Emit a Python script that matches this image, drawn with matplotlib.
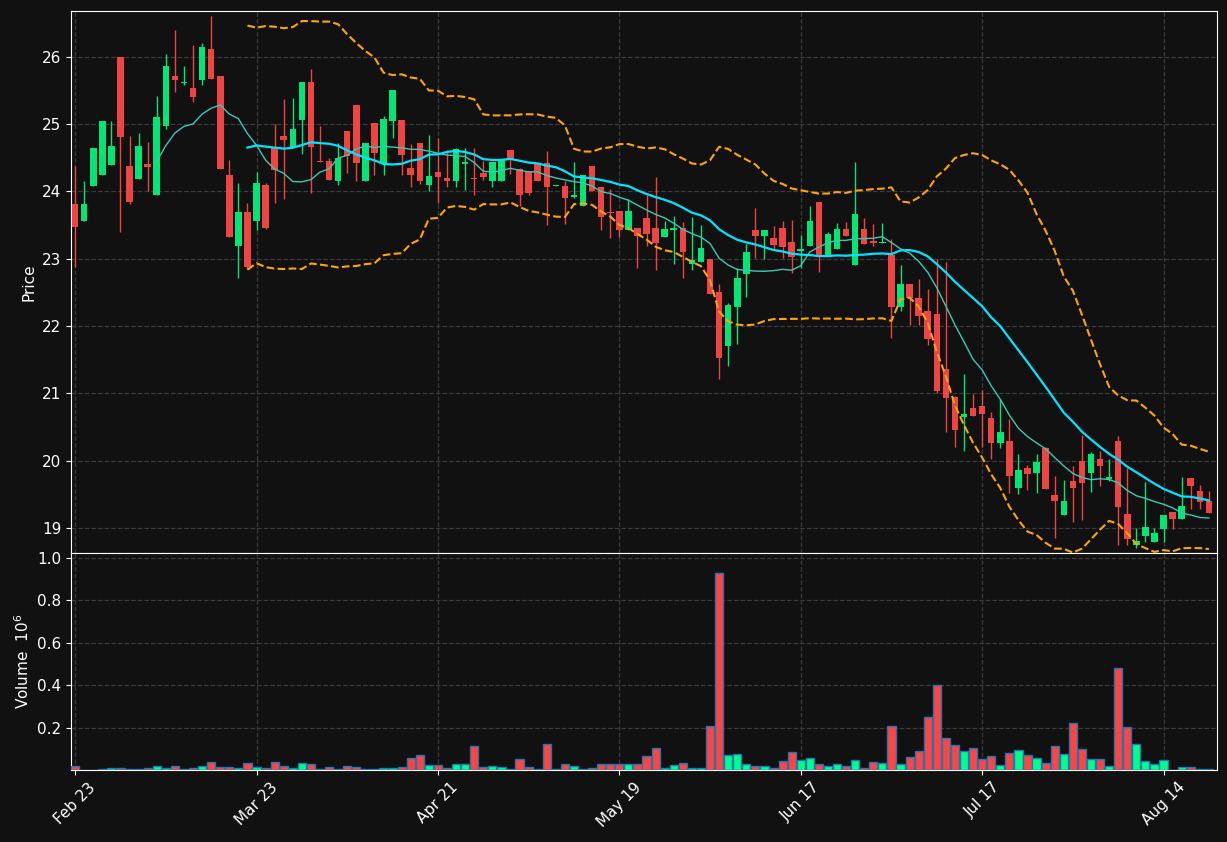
import matplotlib
matplotlib.use("Agg")
import matplotlib.pyplot as plt
import numpy as np
import pandas as pd

# OHLC, one entry per trading day
opens = [23.82, 23.56, 24.08, 24.25, 24.39, 26.00, 24.37, 24.18, 24.40, 23.95,
         24.97, 25.72, 25.61, 25.53, 25.65, 26.11, 25.71, 24.25, 23.19, 23.70,
         23.56, 24.09, 24.64, 24.83, 24.66, 25.06, 25.63, 24.45, 24.45, 24.15,
         24.89, 25.29, 24.15, 25.02, 24.42, 25.05, 25.06, 24.35, 24.72, 24.10,
         24.29, 24.20, 24.16, 24.40, 24.19, 24.28, 24.15, 24.16, 24.62, 24.33,
         24.31, 24.42, 24.42, 24.08, 24.08, 23.91, 23.79, 24.38, 24.06, 23.70,
         23.71, 23.42, 23.46, 23.60, 23.46, 23.32, 23.43, 23.46, 22.92, 22.95,
         22.99, 22.51, 21.71, 22.29, 22.77, 23.42, 23.34, 23.31, 23.46, 23.25,
         23.11, 23.19, 23.84, 23.04, 23.15, 23.44, 22.91, 23.44, 23.26, 23.24,
         23.05, 22.29, 22.63, 22.42, 22.22, 22.18, 21.37, 20.94, 20.65, 20.78,
         20.82, 20.64, 20.27, 20.30, 19.60, 19.90, 19.82, 20.19, 19.49, 19.19,
         19.70, 20.00, 19.82, 20.02, 19.73, 20.30, 19.21, 18.75, 18.89, 18.80,
         18.99, 19.24, 19.14, 19.75, 19.55, 19.40]
highs = [24.38, 24.15, 24.64, 25.04, 25.05, 26.00, 24.82, 24.87, 24.74, 25.41,
         26.04, 26.39, 25.86, 26.18, 26.21, 26.61, 25.71, 24.47, 24.13, 23.83,
         24.29, 24.13, 25.00, 25.37, 25.39, 25.62, 25.82, 24.97, 24.50, 24.72,
         24.89, 25.29, 24.72, 25.02, 25.12, 25.51, 25.06, 24.70, 24.72, 24.84,
         24.79, 24.62, 24.64, 24.64, 24.64, 24.45, 24.44, 24.46, 24.62, 24.35,
         24.31, 24.42, 24.60, 24.09, 24.15, 24.44, 24.25, 24.38, 24.06, 24.03,
         23.71, 23.88, 23.46, 23.94, 24.22, 23.56, 23.64, 23.54, 23.62, 23.50,
         22.99, 22.63, 22.34, 22.87, 23.22, 23.76, 23.42, 23.49, 23.56, 23.57,
         23.35, 23.79, 23.84, 23.39, 23.53, 23.54, 24.43, 23.60, 23.51, 23.53,
         23.29, 22.90, 22.63, 22.70, 22.55, 23.00, 22.95, 20.96, 21.29, 20.99,
         21.05, 20.72, 20.91, 20.62, 20.10, 19.94, 20.10, 20.20, 19.78, 19.72,
         19.92, 20.39, 20.13, 20.15, 20.03, 20.37, 19.89, 19.00, 19.68, 19.00,
         19.19, 19.24, 19.76, 19.75, 19.64, 19.55]
lows = [22.88, 23.56, 24.08, 24.25, 24.39, 23.39, 23.82, 24.18, 24.00, 23.95,
        24.92, 25.47, 25.58, 25.33, 25.58, 25.67, 24.33, 23.32, 22.72, 22.85,
        23.42, 23.44, 23.83, 23.89, 24.66, 24.56, 23.97, 24.44, 24.17, 24.09,
        24.28, 24.15, 24.15, 24.25, 24.25, 24.79, 24.25, 24.06, 24.11, 24.00,
        23.83, 24.07, 24.07, 24.02, 23.95, 24.17, 24.06, 24.16, 24.26, 23.78,
        23.95, 24.16, 23.50, 24.08, 23.51, 23.90, 23.79, 24.00, 23.43, 23.31,
        23.33, 23.42, 22.87, 23.19, 22.83, 23.32, 22.92, 22.72, 22.83, 22.95,
        22.48, 21.22, 21.40, 21.73, 22.43, 23.01, 22.99, 23.14, 23.01, 22.79,
        22.87, 23.19, 22.81, 23.04, 23.15, 23.34, 22.91, 23.22, 23.19, 23.24,
        21.82, 22.22, 22.02, 22.01, 21.72, 21.00, 20.42, 20.21, 20.15, 20.66,
        20.21, 20.02, 20.19, 19.52, 19.51, 19.57, 19.52, 19.58, 18.85, 19.19,
        19.09, 19.12, 19.53, 19.63, 19.70, 18.75, 18.75, 18.70, 18.80, 18.80,
        18.80, 18.99, 19.14, 19.28, 19.28, 19.23]
closes = [23.47, 23.81, 24.64, 25.04, 24.67, 24.81, 23.84, 24.68, 24.36, 25.11,
          25.86, 25.66, 25.63, 25.40, 26.14, 25.67, 24.33, 23.32, 23.69, 22.88,
          24.12, 23.46, 24.32, 24.76, 24.92, 25.62, 24.66, 24.44, 24.17, 24.49,
          24.52, 24.42, 24.72, 24.57, 25.08, 25.51, 24.54, 24.24, 24.15, 24.23,
          24.21, 24.15, 24.63, 24.44, 24.18, 24.22, 24.44, 24.46, 24.46, 23.95,
          23.97, 24.16, 24.07, 24.09, 23.90, 23.95, 24.25, 24.00, 23.62, 23.68,
          23.42, 23.71, 23.34, 23.37, 23.24, 23.44, 23.45, 23.10, 22.98, 23.16,
          22.48, 21.52, 22.32, 22.72, 23.10, 23.34, 23.42, 23.20, 23.17, 23.03,
          23.15, 23.56, 23.05, 23.37, 23.44, 23.34, 23.66, 23.22, 23.23, 23.25,
          22.28, 22.63, 22.42, 22.15, 21.81, 21.04, 20.93, 20.45, 20.70, 20.66,
          20.70, 20.27, 20.43, 19.78, 19.87, 19.81, 19.98, 19.58, 19.40, 19.41,
          19.59, 19.67, 20.10, 19.92, 19.76, 19.31, 18.84, 18.81, 19.01, 18.93,
          19.19, 19.14, 19.33, 19.63, 19.39, 19.23]
# volume in millions
volumes = [0.020, 0.002, 0.002, 0.005, 0.010, 0.010, 0.004, 0.004, 0.010, 0.020,
           0.010, 0.020, 0.004, 0.010, 0.020, 0.040, 0.013, 0.013, 0.010, 0.034,
           0.014, 0.008, 0.038, 0.020, 0.008, 0.034, 0.029, 0.004, 0.013, 0.004,
           0.020, 0.013, 0.003, 0.003, 0.008, 0.008, 0.013, 0.058, 0.070, 0.022,
           0.022, 0.008, 0.027, 0.027, 0.114, 0.013, 0.019, 0.013, 0.004, 0.053,
           0.013, 0.004, 0.123, 0.003, 0.027, 0.018, 0.004, 0.008, 0.027, 0.027,
           0.027, 0.027, 0.027, 0.066, 0.104, 0.008, 0.022, 0.032, 0.008, 0.008,
           0.210, 0.930, 0.070, 0.075, 0.027, 0.018, 0.018, 0.008, 0.042, 0.085,
           0.046, 0.056, 0.027, 0.018, 0.027, 0.018, 0.046, 0.008, 0.037, 0.032,
           0.210, 0.027, 0.061, 0.090, 0.248, 0.400, 0.152, 0.118, 0.090, 0.104,
           0.051, 0.066, 0.022, 0.080, 0.094, 0.070, 0.056, 0.032, 0.114, 0.075,
           0.220, 0.100, 0.051, 0.051, 0.018, 0.480, 0.205, 0.123, 0.042, 0.027,
           0.046, 0.002, 0.013, 0.013, 0.003, 0.003]
tick_pos = [0, 20, 40, 60, 80, 100, 120]
tick_labels = ["Feb 23", "Mar 23", "Apr 21", "May 19", "Jun 17", "Jul 17", "Aug 14"]

BG = "#111111"
UP, DOWN = "#00e676", "#ef4444"
VUP, VDOWN = "#00ff88", "#ff4444"

df = pd.DataFrame({"open": opens, "high": highs, "low": lows, "close": closes, "volume": volumes})
x = np.arange(len(df))
up = df["close"] >= df["open"]
mav10 = df["close"].rolling(10).mean()
mav20 = df["close"].rolling(20).mean()
std20 = df["close"].rolling(20).std(ddof=0)

fig = plt.figure(figsize=(12.27, 8.42), dpi=100, facecolor=BG)
ax = fig.add_axes([0.0579, 0.3432, 0.934, 0.6438], facecolor=BG)
axv = fig.add_axes([0.0579, 0.0855, 0.934, 0.2577], facecolor=BG, sharex=ax)

colors = np.where(up, UP, DOWN)
ax.vlines(x, df["low"], df["high"], colors=colors, linewidth=1, zorder=3)
body = (df["close"] - df["open"]).abs().clip(lower=0.015)
ax.bar(x, body, bottom=df[["open", "close"]].min(axis=1), width=0.72, color=colors, zorder=4)

ax.plot(x, mav10, color="#3cc8b4", linewidth=1, zorder=5)
ax.plot(x, mav20, color="#00e5ff", linewidth=1.6, zorder=5)
ax.plot(x, mav20 + 2 * std20, color="#ffa500", linestyle="--", linewidth=1.5, zorder=5)
ax.plot(x, mav20 - 2 * std20, color="#ffa500", linestyle="--", linewidth=1.5, zorder=5)

axv.bar(x, df["volume"], width=0.9, color=np.where(up, VUP, VDOWN),
        edgecolor="#1f77b4", linewidth=1, zorder=3)

ax.set_ylim(18.63, 26.68)
ax.set_xlim(-0.45, 125.9)
axv.set_ylim(0, 1.024)
axv.set_yticks([0.2, 0.4, 0.6, 0.8, 1.0])
ax.set_ylabel("Price", color="white", fontsize=11)
axv.set_ylabel("Volume  $10^6$", color="white", fontsize=11)
axv.set_xticks(tick_pos)
axv.set_xticklabels(tick_labels, rotation=45)
plt.setp(ax.get_xticklabels(), visible=False)

for a in (ax, axv):
    a.grid(True, color="#3a3a3a", linestyle="--", linewidth=0.9)
    a.set_axisbelow(True)
    a.tick_params(colors="white", labelsize=11)
    for s in a.spines.values():
        s.set_color("white")

fig.savefig("out.png", dpi=100, facecolor=BG)
